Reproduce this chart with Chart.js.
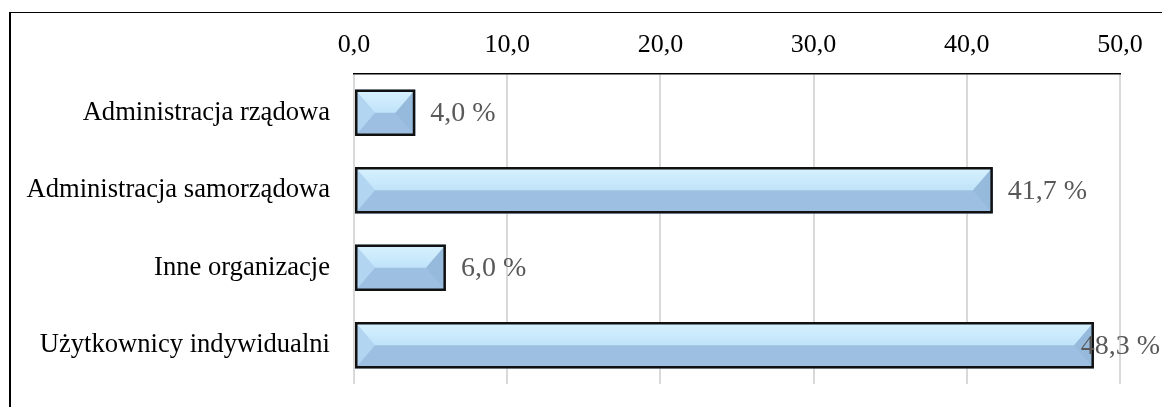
<!DOCTYPE html>
<html>
<head>
<meta charset="utf-8">
<script src="https://cdn.jsdelivr.net/npm/chart.js@4.4.1/dist/chart.umd.min.js"></script>
<style>
  html, body { margin: 0; padding: 0; background: #fff; }
  #wrap { position: relative; width: 1162px; height: 407px; overflow: hidden; }
  #frame { position: absolute; left: 9px; top: 12px; width: 1200px; height: 500px;
           border-left: 2px solid #000; border-top: 1.5px solid #000; box-sizing: border-box; }
  canvas { position: absolute; left: 0; top: 0; }
</style>
</head>
<body>
<div id="wrap">
  <div id="frame"></div>
  <canvas id="c" width="1162" height="407"></canvas>
</div>
<script>
const categories = ['Administracja rządowa', 'Administracja samorządowa', 'Inne organizacje', 'Użytkownicy indywidualni'];
const values = [4.0, 41.7, 6.0, 48.3];
const valueLabels = ['4,0 %', '41,7 %', '6,0 %', '48,3 %'];
const xTicks = [0, 10, 20, 30, 40, 50];

const FONT = "'Liberation Serif', 'Times New Roman', serif";

const bevelPlugin = {
  id: 'bevel',
  afterDatasetsDraw(chart) {
    const ctx = chart.ctx;
    const meta = chart.getDatasetMeta(0);
    meta.data.forEach((bar) => {
      const x0 = Math.min(bar.base, bar.x), x1 = Math.max(bar.base, bar.x);
      const h = bar.height, top = bar.y - h / 2, bot = bar.y + h / 2, mid = bar.y;
      const b = Math.min(20, (x1 - x0) / 2);
      ctx.save();
      ctx.fillStyle = '#9dc0e2';
      ctx.fillRect(x0, top, x1 - x0, h);
      ctx.fillStyle = '#b2d5f2';
      ctx.beginPath();
      ctx.moveTo(x0, top); ctx.lineTo(x0 + b, mid); ctx.lineTo(x0, bot); ctx.closePath(); ctx.fill();
      ctx.fillStyle = '#96badc';
      ctx.beginPath();
      ctx.moveTo(x1, top); ctx.lineTo(x1 - b, mid); ctx.lineTo(x1, bot); ctx.closePath(); ctx.fill();
      const g = ctx.createLinearGradient(0, top, 0, mid);
      g.addColorStop(0, '#d8f2ff');
      g.addColorStop(1, '#c0e3f9');
      ctx.fillStyle = g;
      ctx.beginPath();
      ctx.moveTo(x0, top); ctx.lineTo(x1, top); ctx.lineTo(x1 - b, mid); ctx.lineTo(x0 + b, mid); ctx.closePath(); ctx.fill();
      ctx.strokeStyle = '#111';
      ctx.lineWidth = 2.5;
      ctx.strokeRect(x0 + 1.25, top + 1.25, x1 - x0 - 2.5, h - 2.5);
      ctx.restore();
    });
  }
};

const labelPlugin = {
  id: 'valueLabels',
  afterDatasetsDraw(chart) {
    const ctx = chart.ctx;
    const meta = chart.getDatasetMeta(0);
    ctx.save();
    ctx.font = '28px ' + FONT;
    ctx.fillStyle = '#595959';
    ctx.textAlign = 'left';
    ctx.textBaseline = 'middle';
    meta.data.forEach((bar, i) => {
      const t = valueLabels[i];
      const w = ctx.measureText(t).width;
      const x = Math.min(bar.x + 15, chart.width - 2 - w);
      ctx.fillText(t, x, bar.y + 1);
    });
    ctx.restore();
  }
};

new Chart(document.getElementById('c'), {
  type: 'bar',
  data: {
    labels: categories,
    datasets: [{
      data: values,
      backgroundColor: 'rgba(0,0,0,0)',
      borderWidth: 0,
      categoryPercentage: 1,
      barPercentage: 0.6
    }]
  },
  options: {
    indexAxis: 'y',
    responsive: false,
    animation: false,
    events: [],
    layout: { padding: { top: 0, right: 42, bottom: 23, left: 0 } },
    plugins: { legend: { display: false }, tooltip: { enabled: false } },
    scales: {
      x: {
        position: 'top',
        min: 0, max: 50,
        afterFit(s) { s.height = 74; s.paddingLeft = 0; s.paddingRight = 0; },
        afterBuildTicks(s) { s.ticks = xTicks.map(v => ({ value: v })); },
        grid: { color: '#d9d9d9', lineWidth: 2, drawTicks: false },
        border: { display: true, color: '#000', width: 1.5 },
        ticks: {
          padding: 13,
          color: '#000',
          font: { family: FONT, size: 26 },
          callback: (v) => v.toFixed(1).replace('.', ',')
        }
      },
      y: {
        afterFit(s) { s.width = 354; s.paddingTop = 0; s.paddingBottom = 0; },
        grid: { display: false, drawTicks: false },
        border: { display: false },
        ticks: {
          padding: 24,
          color: '#000',
          font: { family: FONT, size: 26.6 }
        }
      }
    }
  },
  plugins: [bevelPlugin, labelPlugin]
});
</script>
</body>
</html>
